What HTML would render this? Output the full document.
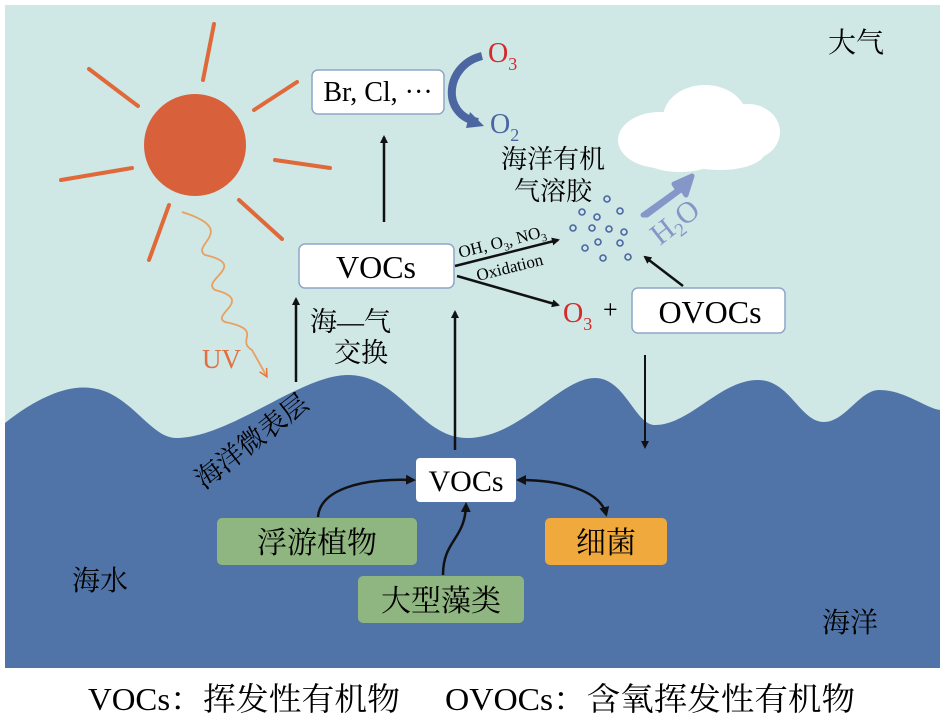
<!DOCTYPE html>
<html><head><meta charset="utf-8"><style>
body{margin:0;background:#fff;width:945px;height:720px;overflow:hidden;font-family:"Liberation Serif","Noto Serif CJK SC",serif}
</style></head><body>
<svg width="945" height="720" viewBox="0 0 945 720" xmlns="http://www.w3.org/2000/svg" font-family="Liberation Serif, Noto Serif CJK SC, serif">
<defs>
<marker id="a" markerWidth="8" markerHeight="8" refX="6" refY="4" orient="auto" markerUnits="userSpaceOnUse"><path d="M0,0 L8,4 L0,8 z" fill="#111"/></marker>
<marker id="s" markerWidth="10" markerHeight="10" refX="7" refY="5" orient="auto-start-reverse" markerUnits="userSpaceOnUse"><path d="M0,0 L10,5 L0,10 z" fill="#111"/></marker>
<marker id="o" markerWidth="10" markerHeight="10" refX="6" refY="5" orient="auto" markerUnits="userSpaceOnUse"><path d="M0,1 L8,5 L0,9" fill="none" stroke="#e8743a" stroke-width="1.5"/></marker>
</defs>
<rect x="5" y="5" width="935" height="663" fill="#cfe7e5"/>
<path d="M5,423 C40,395 70,385 91,388 C130,392 150,438 176,438 C230,438 300,375 348,375 C400,375 420,438 467,438 C520,438 560,378 595,378 C625,378 635,425 655,425 C690,425 720,380 758,380 C790,380 800,422 824,422 C845,422 860,390 879,390 C905,390 925,408 940,410 L940,668 L5,668 Z" fill="#5074a8"/>
<circle cx="195" cy="145" r="51" fill="#d8603a"/>
<g stroke="#e0693a" stroke-width="4" stroke-linecap="round">
<line x1="214" y1="24" x2="203" y2="80"/><line x1="89" y1="69" x2="138" y2="106"/><line x1="61" y1="180" x2="132" y2="168"/><line x1="169" y1="205" x2="149" y2="260"/><line x1="239" y1="200" x2="282" y2="239"/><line x1="275" y1="160" x2="330" y2="168"/><line x1="254" y1="110" x2="297" y2="82"/>
</g>
<path d="M182,212 C240,230 190,245 205,255 C250,265 200,280 215,290 C255,300 210,315 225,322 C265,330 235,340 252,350 L266,375" fill="none" stroke="#e8a060" stroke-width="1.8" marker-end="url(#o)"/>
<text x="202" y="368" font-size="27" fill="#e07040">UV</text>
<rect x="312" y="70" width="132" height="44" rx="6" fill="#fff" stroke="#8fa6c8" stroke-width="1.5"/>
<text x="378" y="101" font-size="28" text-anchor="middle">Br, Cl, ···</text>
<rect x="299" y="244" width="155" height="44" rx="6" fill="#fff" stroke="#8fa6c8" stroke-width="1.5"/>
<text x="376" y="278" font-size="32" text-anchor="middle">VOCs</text>
<rect x="632" y="288" width="153" height="45" rx="6" fill="#fff" stroke="#8fa6c8" stroke-width="1.5"/>
<text x="710" y="323" font-size="32" text-anchor="middle">OVOCs</text>
<path d="M482,56 C445,65 440,115 478,122" fill="none" stroke="#4b66a0" stroke-width="8"/>
<path d="M470,112 L484,126 L466,128 Z" fill="#4b66a0"/>
<text x="488" y="62" font-size="28" fill="#d42a2a">O<tspan font-size="18" dy="8">3</tspan></text>
<text x="490" y="133" font-size="28" fill="#4b66a0">O<tspan font-size="18" dy="8">2</tspan></text>
<g fill="#fff">
<ellipse cx="660" cy="140" rx="42" ry="28"/><ellipse cx="705" cy="118" rx="42" ry="33"/><ellipse cx="748" cy="132" rx="32" ry="28"/><ellipse cx="720" cy="152" rx="45" ry="18"/><ellipse cx="680" cy="155" rx="40" ry="17"/>
</g>
<text x="553" y="168" font-size="26" text-anchor="middle">海洋有机</text>
<text x="553" y="200" font-size="26" text-anchor="middle">气溶胶</text>
<path d="M643,215 L678,190 L674,184 L692,176 L686,195 L682,189 L647,215 Z" fill="#8497c8" stroke="#8497c8" stroke-width="5" stroke-linejoin="round"/>
<text font-size="30" fill="#8497c8" transform="translate(660,246) rotate(-38)">H<tspan font-size="19" dy="6">2</tspan><tspan dy="-6">O</tspan></text>
<g fill="none" stroke="#4b66a0" stroke-width="1.6">
<circle cx="607" cy="199" r="3"/><circle cx="582" cy="212" r="3"/><circle cx="597" cy="217" r="3"/><circle cx="620" cy="211" r="3"/><circle cx="573" cy="228" r="3"/><circle cx="592" cy="228" r="3"/><circle cx="609" cy="229" r="3"/><circle cx="624" cy="232" r="3"/><circle cx="598" cy="242" r="3"/><circle cx="620" cy="243" r="3"/><circle cx="585" cy="248" r="3"/><circle cx="603" cy="258" r="3"/><circle cx="628" cy="257" r="3"/>
</g>
<g stroke="#111" stroke-width="2.5">
<line x1="384" y1="222" x2="384" y2="137" marker-end="url(#a)"/>
<line x1="455" y1="266" x2="558" y2="240" marker-end="url(#a)"/>
<line x1="457" y1="276" x2="558" y2="305" marker-end="url(#a)"/>
<line x1="683" y1="286" x2="645" y2="257" marker-end="url(#a)"/>
<line x1="296" y1="382" x2="296" y2="299" marker-end="url(#a)"/>
<line x1="455" y1="450" x2="455" y2="312" marker-end="url(#a)"/>
<line x1="645" y1="355" x2="645" y2="447" marker-end="url(#a)" stroke-width="2"/>
</g>
<text font-size="17" transform="translate(460,258) rotate(-14)">OH, O<tspan font-size="11" dy="4">3</tspan><tspan dy="-4">, NO</tspan><tspan font-size="11" dy="4">3</tspan></text>
<text font-size="17" transform="translate(478,281) rotate(-14)">Oxidation</text>
<text x="563" y="322" font-size="28" fill="#d42a2a">O<tspan font-size="18" dy="8">3</tspan></text>
<text x="603" y="318" font-size="26">+</text>
<text x="310" y="331" font-size="27">海—气</text>
<text x="334" y="362" font-size="27">交换</text>
<text font-size="27" transform="translate(204,490) rotate(-38)">海洋微表层</text>
<rect x="416" y="458" width="100" height="44" rx="4" fill="#fff"/>
<text x="466" y="491" font-size="30" text-anchor="middle">VOCs</text>
<rect x="217" y="518" width="200" height="47" rx="5" fill="#8fb680"/>
<text x="317" y="553" font-size="30" text-anchor="middle">浮游植物</text>
<rect x="545" y="518" width="122" height="47" rx="5" fill="#efa93c"/>
<text x="606" y="553" font-size="30" text-anchor="middle">细菌</text>
<rect x="358" y="576" width="166" height="47" rx="5" fill="#8fb680"/>
<text x="441" y="611" font-size="30" text-anchor="middle">大型藻类</text>
<g fill="none" stroke="#111" stroke-width="2.5">
<path d="M318,517 C320,490 360,478 413,480" marker-end="url(#s)"/>
<path d="M443,575 C443,540 465,540 466,505" marker-end="url(#s)"/>
<path d="M519,480 C560,480 600,490 606,514" marker-start="url(#s)" marker-end="url(#s)"/>
</g>
<text x="72" y="590" font-size="28">海水</text>
<text x="822" y="632" font-size="28">海洋</text>
<text x="828" y="52" font-size="28">大气</text>
<text x="88" y="710" font-size="32" textLength="312" lengthAdjust="spacingAndGlyphs">VOCs：挥发性有机物</text>
<text x="445" y="710" font-size="32" textLength="410" lengthAdjust="spacingAndGlyphs">OVOCs：含氧挥发性有机物</text>
</svg>
</body></html>
